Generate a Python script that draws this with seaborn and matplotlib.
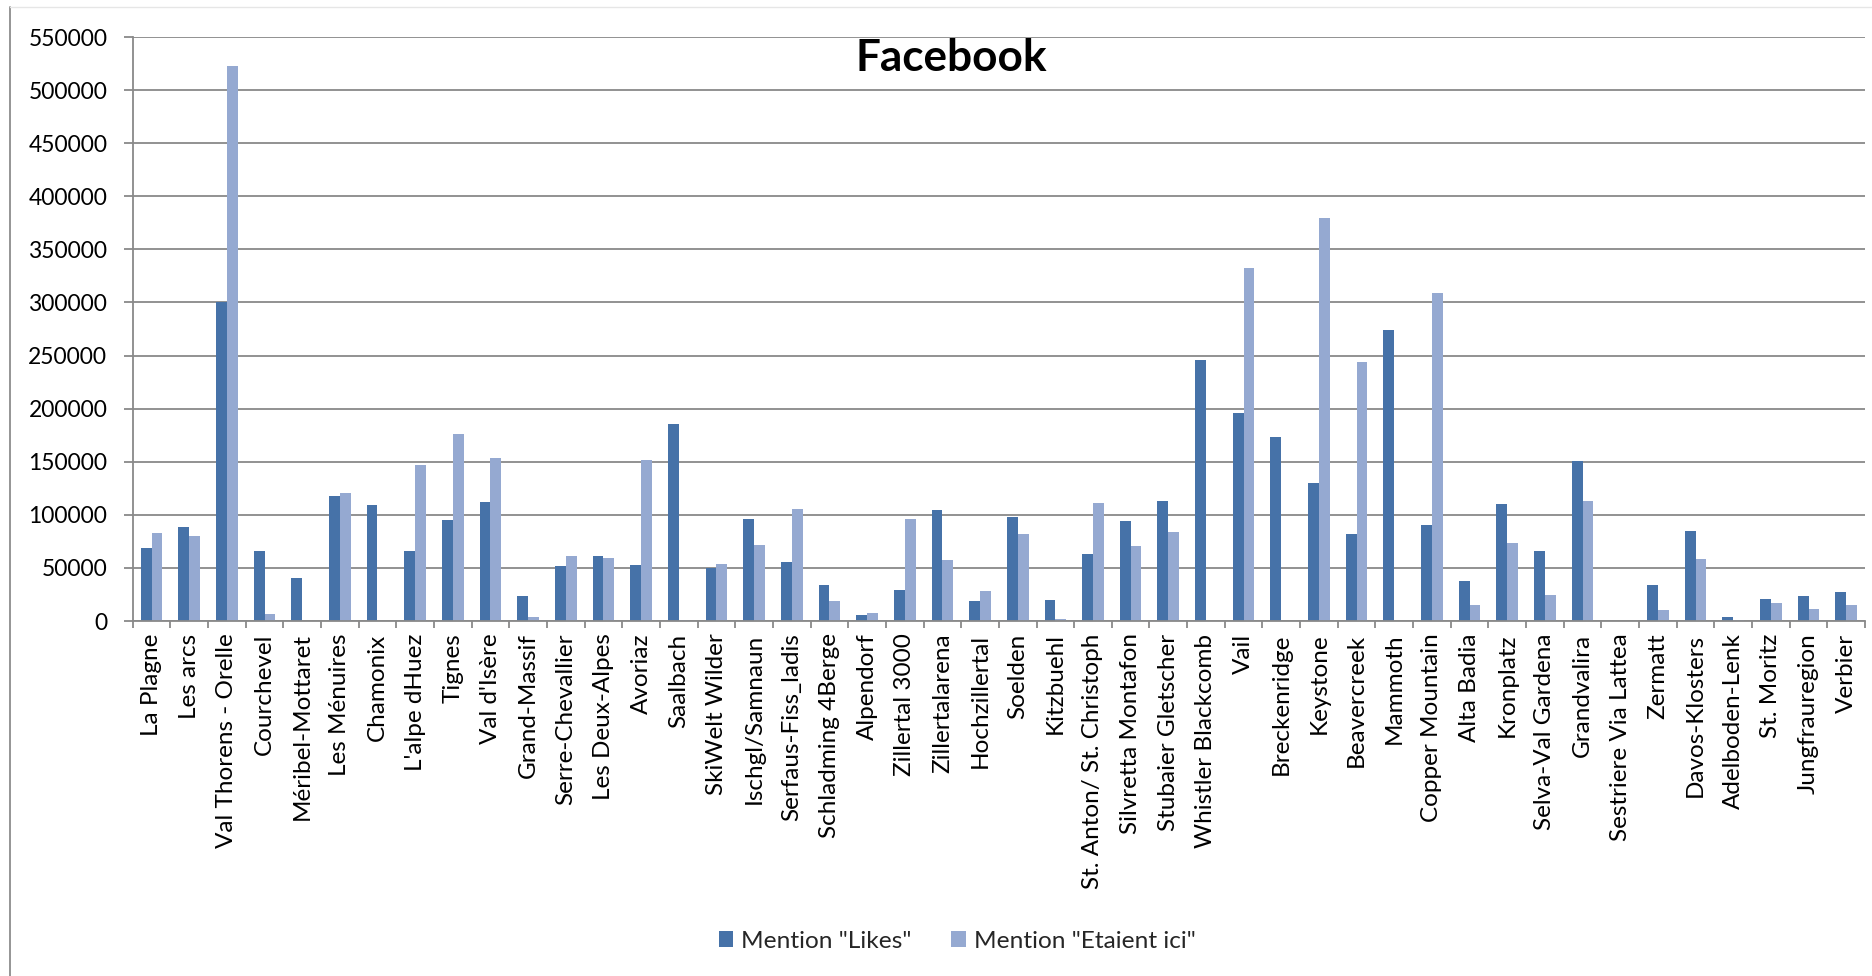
import matplotlib
matplotlib.use("Agg")
import matplotlib.pyplot as plt
from matplotlib.patches import Patch
from matplotlib.lines import Line2D
from matplotlib.ticker import FixedLocator, MultipleLocator, NullFormatter
import numpy as np
import pandas as pd
import seaborn as sns

# Ski resorts and their Facebook figures
resorts = [
    "La Plagne", "Les arcs", "Val Thorens - Orelle", "Courchevel", "Méribel-Mottaret",
    "Les Ménuires", "Chamonix", "L'alpe dHuez", "Tignes", "Val d'Isère",
    "Grand-Massif", "Serre-Chevallier", "Les Deux-Alpes", "Avoriaz", "Saalbach",
    "SkiWelt Wilder", "Ischgl/Samnaun", "Serfaus-Fiss_ladis", "Schladming 4Berge", "Alpendorf",
    "Zillertal 3000", "Zillertalarena", "Hochzillertal", "Soelden", "Kitzbuehl",
    "St. Anton/ St. Christoph", "Silvretta Montafon", "Stubaier Gletscher", "Whistler Blackcomb", "Vail",
    "Breckenridge", "Keystone", "Beavercreek", "Mammoth", "Copper Mountain",
    "Alta Badia", "Kronplatz", "Selva-Val Gardena", "Grandvalira", "Sestriere Via Lattea",
    "Zermatt", "Davos-Klosters", "Adelboden-Lenk", "St. Moritz", "Jungfrauregion",
    "Verbier",
]

likes = [
    69200, 88500, 300000, 65800, 40400,
    117300, 108800, 65800, 95400, 111900,
    23500, 51500, 61200, 52700, 185400,
    50000, 96500, 55800, 33500, 5800,
    29600, 105000, 19200, 98100, 20000,
    63500, 94200, 113100, 245800, 196200,
    173500, 129600, 82300, 273800, 90400,
    38100, 110400, 65800, 150800, 0,
    33500, 85000, 3500, 20800, 23500,
    27700,
]

etaient_ici = [
    83000, 80400, 523000, 6900, 0,
    120800, 0, 146900, 176200, 153500,
    3800, 61200, 59200, 151500, 1000,
    53800, 71500, 105400, 18500, 7700,
    96200, 57300, 28500, 82300, 1900,
    111100, 70400, 83500, 0, 332700,
    0, 380000, 243500, 0, 308500,
    14600, 73800, 24200, 112700, 0,
    10000, 58500, 1200, 16900, 11500,
    15000,
]

series_names = ['Mention "Likes"', 'Mention "Etaient ici"']
colors = ["#4672A8", "#95A9D1"]

df = pd.DataFrame({
    "resort": resorts * 2,
    "value": likes + etaient_ici,
    "series": [series_names[0]] * len(resorts) + [series_names[1]] * len(resorts),
})

sns.set_theme(style="white")
plt.rcParams["font.family"] = ["Lato", "DejaVu Sans"]

W, H = 1872, 976
fig = plt.figure(figsize=(W / 100, H / 100), dpi=100)
ax = fig.add_axes([132.7 / W, 1 - 621 / H, (1865 - 132.7) / W, (621 - 37) / H])

sns.barplot(
    data=df, x="resort", y="value", hue="series", order=resorts,
    hue_order=series_names, palette=colors, saturation=1,
    width=0.575, gap=0, dodge=True, legend=False, ax=ax,
    edgecolor="none", linewidth=0,
)

grid_col = "#898989"
ax.set_ylim(0, 550000)
ax.set_xlim(-0.5, len(resorts) - 0.5)
ax.yaxis.set_major_locator(MultipleLocator(50000))
ax.yaxis.grid(True, color=grid_col, linewidth=1.3)
ax.set_axisbelow(True)
ax.set_xlabel("")
ax.set_ylabel("")

for side in ("top", "right"):
    ax.spines[side].set_visible(False)
for side in ("left", "bottom"):
    ax.spines[side].set_color(grid_col)
    ax.spines[side].set_linewidth(1.3)

ax.tick_params(axis="y", which="major", direction="out", length=6.3, width=1.3,
               color=grid_col, pad=12, labelsize=16.5, labelcolor="black", left=True)
ax.set_yticks(np.arange(0, 550001, 50000))
ax.set_yticklabels([str(v) for v in range(0, 550001, 50000)])

# category labels on major ticks, tick marks on the boundaries between categories
ax.set_xticks(range(len(resorts)))
ax.set_xticklabels(resorts, rotation=90, ha="center", va="top")
ax.tick_params(axis="x", which="major", length=0, pad=9, labelsize=17.5, labelcolor="black")
ax.xaxis.set_minor_locator(FixedLocator(np.arange(-0.5, len(resorts), 1.0)))
ax.xaxis.set_minor_formatter(NullFormatter())
ax.tick_params(axis="x", which="minor", direction="out", length=5, width=1.3,
               color=grid_col, bottom=True)

fig.text(951 / W, 1 - 58 / H, "Facebook", ha="center", va="center",
         fontsize=31.8, fontweight="bold", color="black")

handles = [Patch(facecolor=c, edgecolor="none") for c in colors]
fig.legend(handles, series_names, loc="center", bbox_to_anchor=(957 / W, 1 - 941 / H),
           ncol=2, frameon=False, fontsize=17.6, handlelength=0.6, handleheight=0.6,
           handletextpad=0.33, columnspacing=1.6)

# chart frame edges
fig.add_artist(Line2D([10 / W, 10 / W], [0, 1 - 7 / H], color="#8c8c8c", linewidth=1.3))
fig.add_artist(Line2D([10 / W, 1], [1 - 7 / H, 1 - 7 / H], color="#e6e6e6", linewidth=1))

fig.savefig("out.png", dpi=100)
